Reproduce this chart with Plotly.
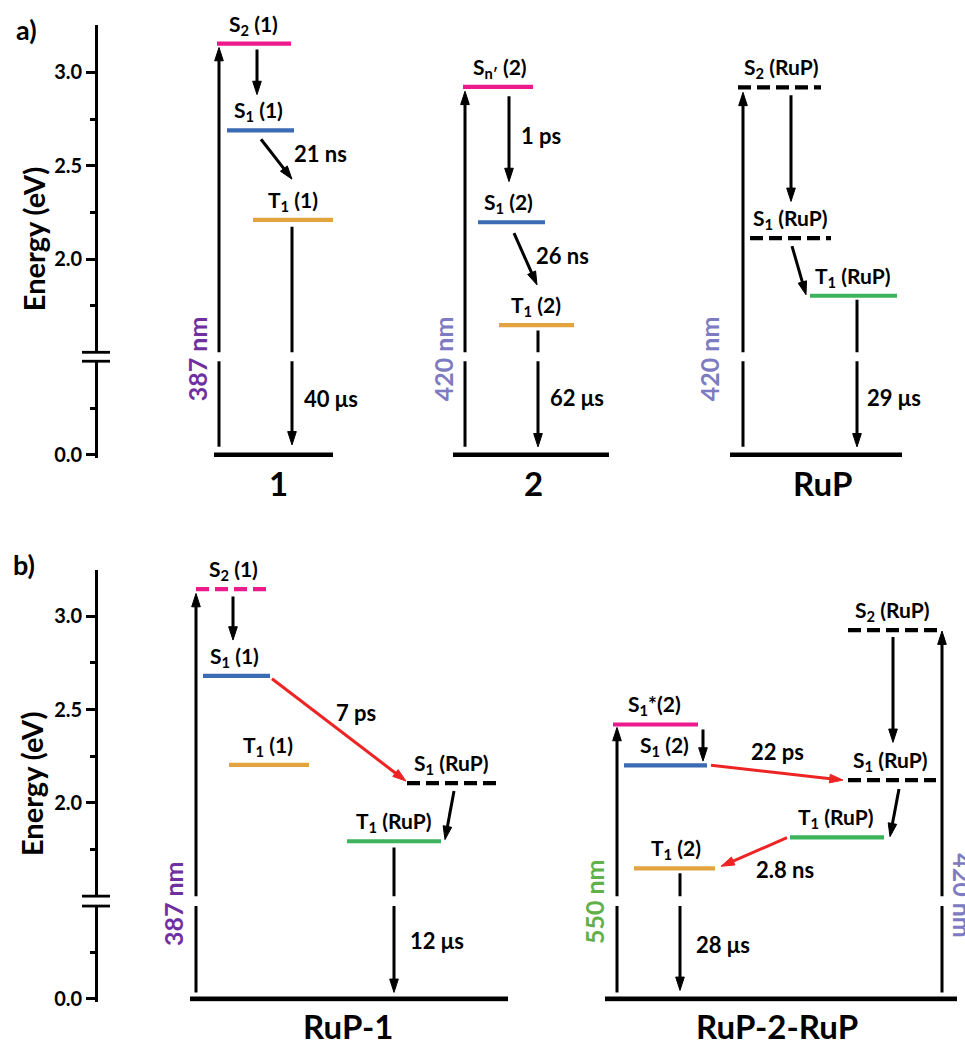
import plotly.graph_objects as go

# ======================= DATA =======================
# Panel a (isolated chromophores) – level energies in eV
a_keys = ["S2_1", "S1_1", "T1_1", "Sn_2", "S1_2", "T1_2", "S2_R", "S1_R", "T1_R"]
a_labels = ["S<sub>2</sub> (1)", "S<sub>1</sub> (1)", "T<sub>1</sub> (1)",
            "S<sub>n′</sub> (2)", "S<sub>1</sub> (2)", "T<sub>1</sub> (2)",
            "S<sub>2</sub> (RuP)", "S<sub>1</sub> (RuP)", "T<sub>1</sub> (RuP)"]
a_energy = [3.155, 2.69, 2.21, 2.923, 2.197, 1.646, 2.92, 2.112, 1.803]
a_groups = ["1", "2", "RuP"]
a_excitation = ["387 nm", "420 nm", "420 nm"]
a_rates = ["21 ns", "40 μs", "1 ps", "26 ns", "62 μs", "29 μs"]
a_transitions = [("G", "S2_1"), ("S2_1", "S1_1"), ("S1_1", "T1_1"), ("T1_1", "G"),
                 ("G", "Sn_2"), ("Sn_2", "S1_2"), ("S1_2", "T1_2"), ("T1_2", "G"),
                 ("G", "S2_R"), ("S2_R", "S1_R"), ("S1_R", "T1_R"), ("T1_R", "G")]

# Panel b (dyads / triads)
b_keys = ["S2_1", "S1_1", "T1_1", "S1_Ra", "T1_Ra",
          "S1s_2", "S1_2", "T1_2", "S1_Rb", "T1_Rb", "S2_Rb"]
b_labels = ["S<sub>2</sub> (1)", "S<sub>1</sub> (1)", "T<sub>1</sub> (1)",
            "S<sub>1</sub> (RuP)", "T<sub>1</sub> (RuP)",
            "S<sub>1</sub>*(2)", "S<sub>1</sub> (2)", "T<sub>1</sub> (2)",
            "S<sub>1</sub> (RuP)", "T<sub>1</sub> (RuP)", "S<sub>2</sub> (RuP)"]
b_energy = [3.145, 2.681, 2.204, 2.106, 1.794, 2.42, 2.201, 1.649, 2.122, 1.815, 2.926]
b_groups = ["RuP-1", "RuP-2-RuP"]
b_excitation = ["387 nm", "550 nm", "420 nm"]
b_rates = ["7 ps", "12 μs", "22 ps", "2.8 ns", "28 μs"]
b_transitions = [("G", "S2_1"), ("S2_1", "S1_1"), ("S1_1", "S1_Ra"), ("S1_Ra", "T1_Ra"),
                 ("T1_Ra", "G"), ("G", "S1s_2"), ("S1s_2", "S1_2"), ("S1_2", "S1_Rb"),
                 ("S2_Rb", "S1_Rb"), ("S1_Rb", "T1_Rb"), ("T1_Rb", "T1_2"), ("T1_2", "G"),
                 ("G", "S2_Rb")]

major_ticks = [0.0, 2.0, 2.5, 3.0]
minor_ticks = [0.25, 1.75, 2.25, 2.75]

# ======================= LAYOUT / STYLE =======================
W, H = 965, 1051
FONT = "Lato"
PINK, BLUE, ORANGE, GREEN = "#EC1A8C", "#3A6BB4", "#E3A440", "#3DB35B"
RED = "#EE2424"
PURPLE, LAVENDER, LGREEN = "#7030A0", "#7D7BC2", "#62B04A"
PX_PER_EV = 188.0
LW_AX = 2.8
LW_ARROW = 3.0


def px(x):
    return x / W


def py(y):
    return 1 - y / H


# axis geometry (pixels) per panel
panels = {
    "a": dict(up="y", lo="y2", top=25, brk_top=355, brk_bot=364, y3=73, y0=458.3),
    "b": dict(up="y3", lo="y4", top=574, brk_top=903, brk_bot=913, y3=621, y0=1006.5),
}
for p in panels.values():
    p["up_range"] = [3.0 - (p["brk_top"] - p["y3"]) / PX_PER_EV, 3.0 + (p["y3"] - p["top"]) / PX_PER_EV]
    p["lo_range"] = [-3.0 / PX_PER_EV, (p["y0"] - p["brk_bot"]) / PX_PER_EV]

# level styles: (x0, x1, colour, dashed, label x)
a_level_style = [(217, 291, PINK, False, 253), (227, 294, BLUE, False, 258), (253, 333, ORANGE, False, 293),
                 (463, 533, PINK, False, 500), (478, 545, BLUE, False, 508), (499, 574, ORANGE, False, 536),
                 (738, 821, "black", True, 781), (750, 831, "black", True, 790), (810, 897, GREEN, False, 853)]
b_level_style = [(196, 268, PINK, True, 233), (203, 270, BLUE, False, 234), (229, 309, ORANGE, False, 268),
                 (407, 496, "black", True, 451), (347, 441, GREEN, False, 394),
                 (613, 698, PINK, False, 654), (624, 707, BLUE, False, 664), (634, 715, ORANGE, False, 676),
                 (848, 936, "black", True, 890), (790, 884, GREEN, False, 836), (848, 937, "black", True, 892)]
a_ground_x = [(214, 333), (453, 609), (730, 902)]
b_ground_x = [(190, 508), (605, 957)]

# transition arrow geometry: (x tail, x head, tail gap px, head gap px, colour)
a_arrow_style = [(219, 219, 8, 4, "black"), (257, 257, 6, 36, "black"), (261, 292, 9, 41, "black"),
                 (292, 292, 7, 10, "black"),
                 (465, 465, 8, 4.5, "black"), (509, 509, 9.5, 41, "black"), (514, 537, 11, 40.5, "black"),
                 (538, 538, 5.5, 8, "black"),
                 (743, 743, 8, 5, "black"), (791, 791, 8, 37, "black"), (792, 806, 8, 1, "black"),
                 (857, 857, 4, 8, "black")]
b_arrow_style = [(196, 196, 6.5, 4.3, "black"), (233, 233, 7.3, 36, "black"), (272, 406, 3, 2, RED),
                 (454, 445, 8, 1.7, "black"), (394, 394, 6.3, 6.5, "black"),
                 (617, 617, 6.5, 3, "black"), (703, 703, 5, 4.3, "black"), (711, 843, 0, 0, RED),
                 (893, 893, 7, 38, "black"), (899, 890, 9, 0.7, "black"), (787, 721, 0.3, 2, RED),
                 (680, 680, 5, 8.5, "black"), (942, 942, 6.5, 1, "black")]

# text positions (pixels)
a_group_pos = [(278, 487), (533, 487), (822, 487)]
a_exc_pos = [(197, 362, -90, PURPLE), (443, 362, -90, LAVENDER), (709, 362, -90, LAVENDER)]
a_rate_pos = [(320, 155), (331, 402), (541, 137), (562, 257), (577, 401), (894, 401)]
b_group_pos = [(348, 1034), (777, 1034)]
b_exc_pos = [(173, 911, -90, PURPLE), (594, 909, -90, LGREEN), (963, 902, 90, LAVENDER)]
b_rate_pos = [(356, 718), (437, 948), (777, 757), (785, 876), (723, 952)]

fig = go.Figure()
shapes, annotations = [], []


def axis_of(panel, E):
    p = panels[panel]
    return p["up"] if E >= p["up_range"][0] else p["lo"]


def add_level(panel, x0, x1, E, color, dashed, width=4.2):
    fig.add_trace(go.Scatter(
        x=[x0, x1], y=[E, E], mode="lines", xaxis="x", yaxis=axis_of(panel, E),
        line=dict(color=color, width=width, dash="13px,6px" if dashed else "solid"),
        hoverinfo="skip", showlegend=False))


def segment(x0, y0, x1, y1, yaxis, color, head):
    fig.add_trace(go.Scatter(
        x=[x0, x1], y=[y0, y1], xaxis="x", yaxis=yaxis,
        mode="lines+markers" if head else "lines",
        line=dict(color=color, width=LW_ARROW),
        marker=dict(symbol="arrow", size=[0, 14], angleref="previous", color=color, opacity=1,
                    line=dict(width=1, color=color)) if head else None,
        cliponaxis=False, hoverinfo="skip", showlegend=False))


def add_transition(panel, E0, E1, xt, xh, gt, gh, color):
    p = panels[panel]
    s = 1 if E1 > E0 else -1
    Et = E0 + s * gt / PX_PER_EV
    Eh = E1 - s * gh / PX_PER_EV
    at, ah = axis_of(panel, Et), axis_of(panel, Eh)
    if at == ah:
        segment(xt, Et, xh, Eh, ah, color, True)
    elif s > 0:  # upward across the axis break
        segment(xt, Et, xt, p["lo_range"][1] + 0.05, p["lo"], color, False)
        segment(xh, p["up_range"][0] - 0.05, xh, Eh, p["up"], color, True)
    else:  # downward across the axis break
        segment(xt, Et, xt, p["up_range"][0] - 0.05, p["up"], color, False)
        segment(xh, p["lo_range"][1] + 0.05, xh, Eh, p["lo"], color, True)


def label(x, y, text, size, color="black", angle=0):
    annotations.append(dict(x=px(x), y=py(y), xref="paper", yref="paper", text=text, showarrow=False,
                            textangle=angle, xanchor="center", yanchor="middle",
                            font=dict(family=FONT, size=size, color=color)))


def build_panel(panel, keys, labels, energy, styles, ground_x, transitions, arrow_styles):
    E = dict(zip(keys, energy))
    E["G"] = 0.0
    for (x0, x1) in ground_x:
        add_level(panel, x0, x1, 0.0, "black", False, width=4.6)
    for k, lab, st in zip(keys, labels, styles):
        x0, x1, col, dashed, lx = st
        add_level(panel, x0, x1, E[k], col, dashed)
        annotations.append(dict(x=lx, y=E[k], xref="x", yref=axis_of(panel, E[k]), text="<b>" + lab + "</b>",
                                showarrow=False, yanchor="middle", yshift=19,
                                font=dict(family=FONT, size=21, color="black")))
    for (f, t), st in zip(transitions, arrow_styles):
        xt, xh, gt, gh, col = st
        add_transition(panel, E[f], E[t], xt, xh, gt, gh, col)


build_panel("a", a_keys, a_labels, a_energy, a_level_style, a_ground_x, a_transitions, a_arrow_style)
build_panel("b", b_keys, b_labels, b_energy, b_level_style, b_ground_x, b_transitions, b_arrow_style)

for txt, (x, y) in zip(a_groups, a_group_pos):
    label(x, y, "<b>" + txt + "</b>", 33)
for txt, (x, y) in zip(b_groups, b_group_pos):
    label(x, y, "<b>" + txt + "</b>", 33)
for txt, (x, y, ang, col) in zip(a_excitation, a_exc_pos):
    label(x, y, "<b>" + txt + "</b>", 25, col, ang)
for txt, (x, y, ang, col) in zip(b_excitation, b_exc_pos):
    label(x, y, "<b>" + txt + "</b>", 25, col, ang)
for txt, (x, y) in zip(a_rates, a_rate_pos):
    label(x, y, "<b>" + txt + "</b>", 22)
for txt, (x, y) in zip(b_rates, b_rate_pos):
    label(x, y, "<b>" + txt + "</b>", 22)

label(26, 30, "<b>a)</b>", 27)
label(24, 569, "<b>b)</b>", 27)
label(33, 241, "<b>Energy (eV)</b>", 29, angle=-90)
label(32, 790, "<b>Energy (eV)</b>", 29, angle=-90)

# axis break marks
for (yt, yb) in [(355, 364), (903, 913)]:
    for yy in (yt, yb):
        shapes.append(dict(type="line", xref="paper", yref="paper", x0=px(82), x1=px(110),
                           y0=py(yy), y1=py(yy), line=dict(color="black", width=LW_AX)))


def yaxis_cfg(p, upper):
    if upper:
        dom = [py(p["brk_top"]), py(p["top"])]
        rng = p["up_range"]
    else:
        dom = [py(p["y0"] + 3.0), py(p["brk_bot"])]
        rng = p["lo_range"]
    tv = [t for t in major_ticks if rng[0] <= t <= rng[1]]
    mv = [t for t in minor_ticks if rng[0] <= t <= rng[1]]
    return dict(domain=dom, range=rng, anchor="free", position=px(96), showgrid=False, zeroline=False,
                showline=True, linecolor="black", linewidth=LW_AX, ticks="outside", ticklen=9,
                tickwidth=LW_AX, tickcolor="black", tickvals=tv, ticktext=["<b>%.1f</b>" % t for t in tv],
                tickfont=dict(family=FONT, size=20, color="black"),
                minor=dict(tickvals=mv, ticks="outside", ticklen=5, tickwidth=LW_AX, tickcolor="black"),
                fixedrange=True)


fig.update_layout(
    width=W, height=H, margin=dict(l=0, r=0, t=0, b=0),
    paper_bgcolor="white", plot_bgcolor="white",
    xaxis=dict(domain=[0, 1], range=[0, W], visible=False, fixedrange=True, anchor="y"),
    yaxis=yaxis_cfg(panels["a"], True),
    yaxis2=yaxis_cfg(panels["a"], False),
    yaxis3=yaxis_cfg(panels["b"], True),
    yaxis4=yaxis_cfg(panels["b"], False),
    shapes=shapes, annotations=annotations, showlegend=False,
)

fig.write_html("out.html", config={"displayModeBar": False},
               post_script="document.body.style.margin='0';")
